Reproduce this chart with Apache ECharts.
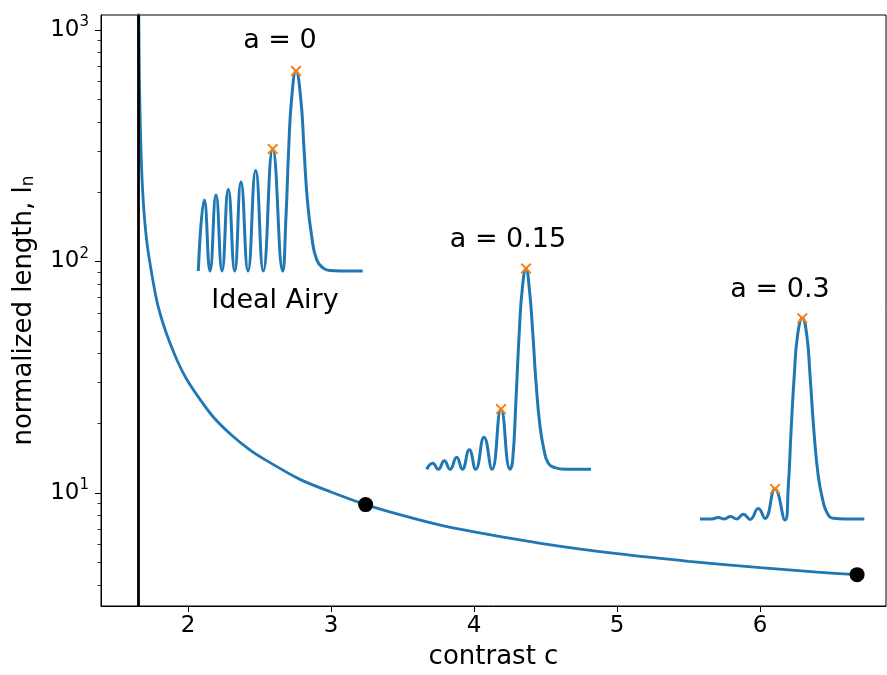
<!DOCTYPE html>
<html><head><meta charset="utf-8">
<script src="https://cdn.jsdelivr.net/npm/echarts@6/dist/echarts.min.js"></script>
<style>html,body{margin:0;padding:0;background:#fff}#c{width:887px;height:675px}</style>
</head><body><div id="c"></div>
<script>
// ---- main curve: normalized length l_n vs contrast c ----
const contrastC = [1.650, 1.6562, 1.6597, 1.6646, 1.6716, 1.6820, 1.6960, 1.7135, 1.7379, 1.7813, 1.8253, 1.8742, 1.9301, 1.9909, 2.08, 2.177, 2.30, 2.43, 2.55, 2.783, 3.00, 3.242, 3.50, 3.75, 4.00, 4.50, 5.00, 5.50, 6.00, 6.40, 6.678];
const lengthLn  = [2500, 1157, 670, 450, 302, 208, 154, 120, 95.3, 67.9, 54.1, 44.4, 36.7, 31.0, 25.6, 21.3, 17.9, 15.4, 13.8, 11.45, 10.1, 8.91, 8.0, 7.3, 6.8, 6.02, 5.47, 5.07, 4.76, 4.55, 4.44];
const markedC  = [3.242, 6.678];
const markedLn = [8.91, 4.44];
const thresholdC = 1.646;

// ---- axis ticks ----
const xTicks = [2, 3, 4, 5, 6];
const yTicks = [10, 100, 1000];
const yMinorTicks = [4, 5, 6, 7, 8, 9, 20, 30, 40, 50, 60, 70, 80, 90, 200, 300, 400, 500, 600, 700, 800, 900];

// ---- inset profiles (normalized transmission vs detuning, arbitrary units) ----
const inset1Label = 'a = 0';
const inset1Sub = 'Ideal Airy';
const inset1X = [0, 0.365, 0.712, 1.077, 1.442, 1.825, 2.214, 2.597, 3.023, 3.491, 3.954, 4.526, 5.134, 5.335, 5.499, 5.681, 5.943, 6.229, 6.429, 6.630, 6.898, 7.202, 7.603, 8.011, 8.619, 10];
const inset1Y = [0, 0.355, 0, 0.380, 0, 0.409, 0, 0.445, 0, 0.502, 0, 0.61, 0, 0.275, 0.612, 0.865, 1.0, 0.865, 0.612, 0.359, 0.173, 0.056, 0.014, 0.002, 0, 0];
const inset1PeakX = [4.526, 5.943];
const inset1PeakY = [0.61, 1.0];

const inset2Label = 'a = 0.15';
const inset2X = [0, 0.365, 0.706, 1.071, 1.418, 1.826, 2.167, 2.593, 2.982, 3.488, 3.974, 4.522, 5.070, 5.234, 5.435, 5.636, 5.819, 6.044, 6.245, 6.452, 6.653, 6.896, 7.139, 7.401, 7.809, 8.418, 10];
const inset2Y = [0, 0.030, 0, 0.043, 0, 0.060, 0, 0.097, 0, 0.160, 0, 0.30, 0, 0.047, 0.349, 0.685, 0.90, 1.0, 0.90, 0.685, 0.433, 0.215, 0.097, 0.030, 0.008, 0, 0];
const inset2PeakX = [4.522, 6.044];
const inset2PeakY = [0.30, 1.0];

const inset3Label = 'a = 0.3';
const inset3X = [0, 0.730, 1.114, 1.461, 1.869, 2.234, 2.635, 3.043, 3.548, 3.956, 4.565, 5.173, 5.374, 5.539, 5.739, 5.946, 6.226, 6.494, 6.695, 6.939, 7.200, 7.468, 7.748, 8.113, 8.825, 10];
const inset3Y = [0, 0, 0.008, 0, 0.012, 0, 0.024, -0.002, 0.052, 0.003, 0.15, -0.005, 0.163, 0.432, 0.718, 0.92, 1.0, 0.92, 0.718, 0.432, 0.213, 0.096, 0.029, 0.004, 0, 0];
const inset3PeakX = [4.565, 6.226];
const inset3PeakY = [0.15, 1.0];

const FONT = 'DejaVu Sans';
const BLUE = '#1f77b4';
const ORANGE = '#ff7f0e';
const zip = (a, b) => a.map((v, i) => [v, b[i]]);
const crossPath = 'path://M0,1.3 L1.3,0 L5,3.7 L8.7,0 L10,1.3 L6.3,5 L10,8.7 L8.7,10 L5,6.3 L1.3,10 L0,8.7 L3.7,5 Z';

const insetGrids = [
  {left: 198.3, top: 71, width: 164.4, height: 200},
  {left: 426.7, top: 268.5, width: 164.3, height: 200.8},
  {left: 700, top: 318.3, width: 164.3, height: 200.7}
];
const insetData = [
  [inset1X, inset1Y, inset1PeakX, inset1PeakY],
  [inset2X, inset2Y, inset2PeakX, inset2PeakY],
  [inset3X, inset3Y, inset3PeakX, inset3PeakY]
];

const grids = [{left: 101, right: 1, top: 15, bottom: 69, show: true, borderColor: '#000', borderWidth: 1, backgroundColor: 'transparent', outerBoundsMode: 'none'}];
const xAxes = [{
  type: 'value', gridIndex: 0, min: 1.392, max: 6.88,
  name: 'contrast c', nameLocation: 'middle', nameGap: 38,
  nameTextStyle: {fontFamily: FONT, fontSize: 26, color: '#000'},
  axisLine: {show: true, lineStyle: {color: '#000', width: 1}},
  axisTick: {show: true, length: 6, lineStyle: {color: '#000', width: 1}, customValues: xTicks},
  axisLabel: {show: true, fontFamily: FONT, fontSize: 23, color: '#000', margin: 9, customValues: xTicks},
  splitLine: {show: false}
}];
const yRich = {
  b: {fontFamily: FONT, fontSize: 23, color: '#000', lineHeight: 30},
  s: {fontFamily: FONT, fontSize: 15, color: '#000', verticalAlign: 'top', lineHeight: 15}
};
const yAxes = [{
  type: 'log', logBase: 10, gridIndex: 0, min: 3.25, max: 1160, position: 'left',
  name: 'normalized length, l{sub|n}', nameLocation: 'middle', nameGap: 64, nameRotate: 90,
  nameTextStyle: {fontFamily: FONT, fontSize: 26, color: '#000',
    rich: {sub: {fontFamily: FONT, fontSize: 17, color: '#000', verticalAlign: 'bottom', padding: [8, 0, 0, 0]}}},
  axisLine: {show: true, lineStyle: {color: '#000', width: 1}},
  axisTick: {show: true, length: 6, lineStyle: {color: '#000', width: 1}, customValues: yTicks},
  axisLabel: {show: true, margin: 12, customValues: yTicks,
    formatter: v => '{b|10}{s|' + Math.round(Math.log10(v)) + '}', rich: yRich},
  splitLine: {show: false}
}, {
  type: 'log', logBase: 10, gridIndex: 0, min: 3.25, max: 1160, position: 'left', offset: 0,
  axisLine: {show: false},
  axisTick: {show: true, length: 3.5, lineStyle: {color: '#000', width: 0.8}, customValues: yMinorTicks},
  axisLabel: {show: false},
  splitLine: {show: false}
}];

const series = [{
  type: 'line', xAxisIndex: 0, yAxisIndex: 0, data: zip(contrastC, lengthLn),
  showSymbol: false, smooth: 0.3, clip: true,
  lineStyle: {color: BLUE, width: 2.8}, z: 3,
  markLine: {silent: true, symbol: 'none', label: {show: false},
    lineStyle: {color: '#000', width: 2.8, type: 'solid', opacity: 1},
    data: [{xAxis: thresholdC}]}
}, {
  type: 'scatter', xAxisIndex: 0, yAxisIndex: 0, data: zip(markedC, markedLn),
  symbol: 'circle', symbolSize: 15, itemStyle: {color: '#000', opacity: 1}, z: 5, clip: false
}];

insetGrids.forEach((g, i) => {
  const gi = i + 1;
  grids.push(Object.assign({show: false, outerBoundsMode: 'none'}, g));
  xAxes.push({type: 'value', gridIndex: gi, min: 0, max: 10, show: false});
  yAxes.push({type: 'value', gridIndex: gi, min: 0, max: 1, show: false});
  const d = insetData[i];
  series.push({
    type: 'line', xAxisIndex: gi, yAxisIndex: gi + 1, data: zip(d[0], d[1]),
    showSymbol: false, smooth: 0.5, clip: false,
    lineStyle: {color: BLUE, width: 3}, z: 4
  });
  series.push({
    type: 'scatter', xAxisIndex: gi, yAxisIndex: gi + 1, data: zip(d[2], d[3]),
    symbol: crossPath, symbolSize: 11, itemStyle: {color: ORANGE, opacity: 1}, z: 6, clip: false
  });
});

const textStyle = (t, x, y) => ({type: 'text', x: x, y: y, z: 10,
  style: {text: t, fontFamily: FONT, fontSize: 27, fill: '#000', align: 'center', verticalAlign: 'middle'}});

const chart = echarts.init(document.getElementById('c'), null, {renderer: 'canvas'});
chart.setOption({
  animation: false,
  backgroundColor: '#fff',
  grid: grids,
  xAxis: xAxes,
  yAxis: yAxes,
  series: series,
  graphic: [
    textStyle(inset1Label, 280, 41),
    textStyle(inset1Sub, 275, 301),
    textStyle(inset2Label, 508, 240),
    textStyle(inset3Label, 780, 290)
  ]
});
</script></body></html>
